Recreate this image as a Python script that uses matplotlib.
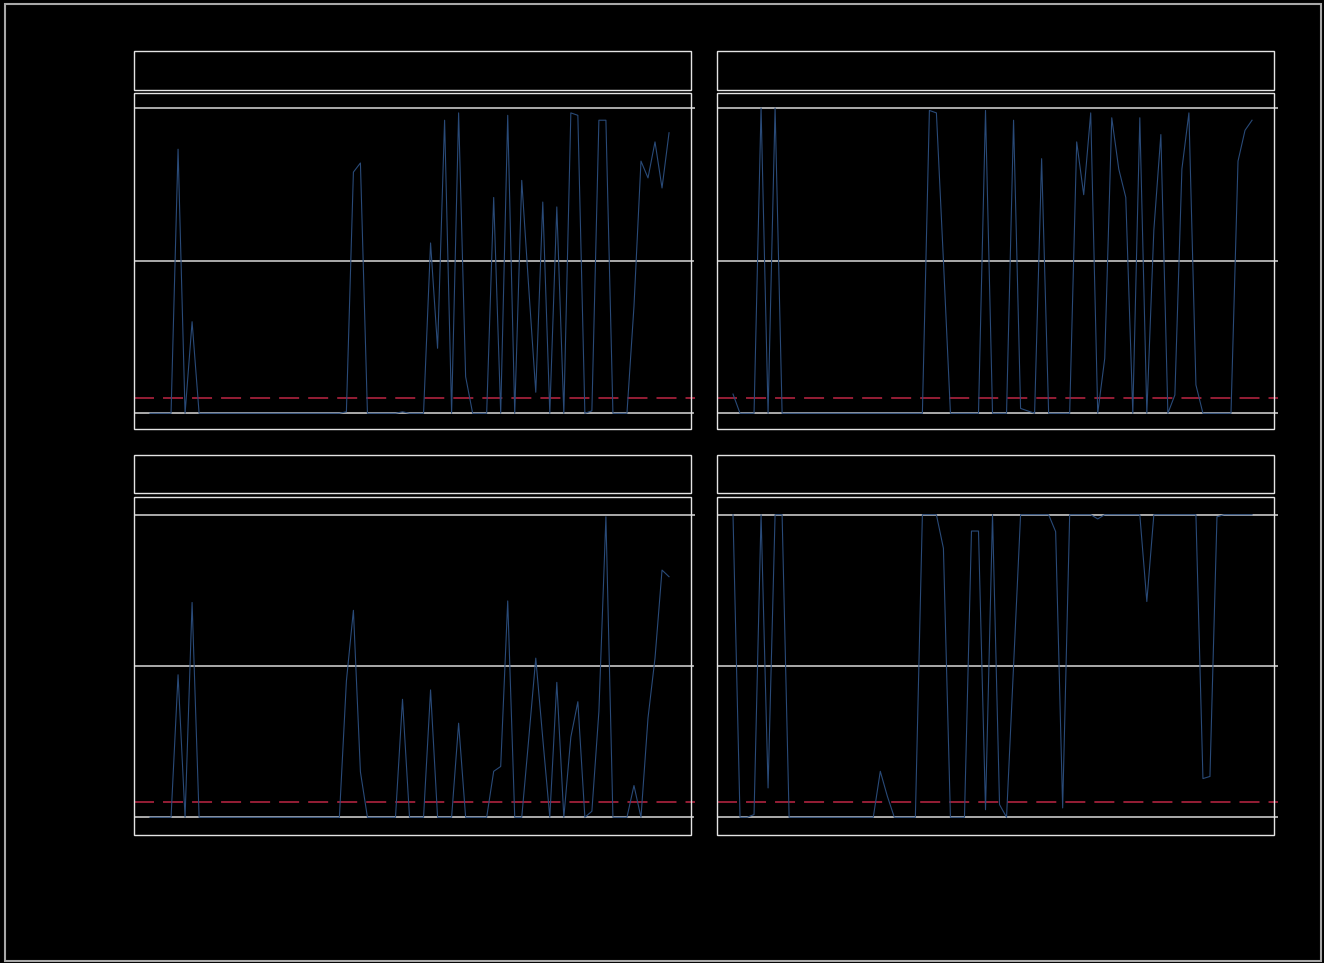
import matplotlib
matplotlib.use("Agg")
import matplotlib.pyplot as plt
from matplotlib.patches import Rectangle

# p-values per rolling window (75 windows each)
windows = list(range(75))

p_top_left = [
    0, 0, 0, 0, 0.865, 0, 0.30, 0, 0, 0, 0, 0, 0, 0, 0,
    0, 0, 0, 0, 0, 0, 0, 0, 0, 0, 0, 0, 0, 0.005, 0.79,
    0.82, 0, 0, 0, 0, 0, 0.005, 0, 0, 0, 0.558, 0.213, 0.96, 0, 0.984,
    0.12, 0, 0, 0, 0.707, 0, 0.976, 0, 0.763, 0.41, 0.069, 0.692, 0, 0.676, 0,
    0.984, 0.976, 0, 0.008, 0.96, 0.96, 0, 0, 0, 0.35, 0.826, 0.771, 0.889, 0.738, 0.919,
]
p_top_right = [
    0.063, 0, 0, 0, 1.0, 0, 1.0, 0, 0, 0, 0, 0, 0, 0, 0,
    0, 0, 0, 0, 0, 0, 0, 0, 0, 0, 0, 0, 0, 0.992, 0.984,
    0.5, 0, 0, 0, 0, 0, 0.992, 0, 0, 0, 0.96, 0.016, 0.008, 0, 0.834,
    0, 0, 0, 0, 0.889, 0.716, 0.984, 0, 0.18, 0.968, 0.80, 0.707, 0, 0.968, 0,
    0.6, 0.913, 0, 0.06, 0.80, 0.984, 0.093, 0, 0, 0, 0, 0, 0.826, 0.927, 0.96,
]
p_bottom_left = [
    0, 0, 0, 0, 0.471, 0, 0.71, 0, 0, 0, 0, 0, 0, 0, 0,
    0, 0, 0, 0, 0, 0, 0, 0, 0, 0, 0, 0, 0, 0.45, 0.684,
    0.15, 0, 0, 0, 0, 0, 0.39, 0, 0, 0, 0.421, 0, 0, 0, 0.311,
    0, 0, 0, 0, 0.152, 0.168, 0.715, 0, 0, 0.26, 0.526, 0.26, 0, 0.446, 0,
    0.265, 0.382, 0, 0.02, 0.35, 0.993, 0, 0, 0, 0.105, 0, 0.328, 0.526, 0.817, 0.795,
]
p_bottom_right = [
    1.0, 0, 0, 0.009, 1.0, 0.097, 1.0, 1.0, 0, 0, 0, 0, 0, 0, 0,
    0, 0, 0, 0, 0, 0, 0.152, 0.07, 0, 0, 0, 0, 1.0, 1.0, 1.0,
    0.889, 0, 0, 0, 0.946, 0.946, 0.025, 1.0, 0.042, 0, 0.5, 1.0, 1.0, 1.0, 1.0,
    1.0, 0.944, 0.031, 1.0, 1.0, 1.0, 1.0, 0.986, 1.0, 1.0, 1.0, 1.0, 1.0, 1.0, 0.713,
    1.0, 1.0, 1.0, 1.0, 1.0, 1.0, 1.0, 0.128, 0.135, 0.993, 1.0, 1.0, 1.0, 1.0, 1.0,
]
threshold = 0.05

W, H = 1324, 963
plt.rcParams['lines.scale_dashes'] = False
fig = plt.figure(figsize=(W / 100, H / 100), dpi=100, facecolor='black')


def fbox(x0, y0, x1, y1):
    # pixel box (top-left origin) -> figure fraction [left, bottom, width, height]
    return [x0 / W, 1 - y1 / H, (x1 - x0) / W, (y1 - y0) / H]


def outline(x0, y0, x1, y1, color='#e4e4e4', lw=1.0):
    fig.add_artist(Rectangle((x0 / W, 1 - y1 / H), (x1 - x0) / W, (y1 - y0) / H,
                             transform=fig.transFigure, fill=False,
                             edgecolor=color, linewidth=lw))


cols = [(134, 691), (717, 1274)]
# frame top/bottom, strip top/bottom, pixel rows of p=1 and p=0
rows = [(92.7, 429, 51.3, 89.7, 108, 413.3),
        (496.7, 835, 455.3, 493.3, 514.7, 817.3)]
series = [[p_top_left, p_top_right], [p_bottom_left, p_bottom_right]]
step = 7.014   # pixels between windows
lead = 16      # pixels from frame to first window

for r, (ft, fb, st, sb, y1, y0) in enumerate(rows):
    for c, (cl, cr) in enumerate(cols):
        ax = fig.add_axes(fbox(cl, ft, cr + 4, fb))
        ax.set_facecolor('none')
        unit = y0 - y1
        ax.set_ylim(-(fb - y0) / unit, 1 + (y1 - ft) / unit)
        ax.set_xlim(-lead / step, (cr + 4 - cl - lead) / step)
        ax.set_yticks([0, 0.5, 1])
        ax.set_xticks([])
        ax.grid(axis='y', color='#b9b9b9', linewidth=1.3, zorder=0)
        ax.tick_params(length=0, labelcolor='black', labelsize=9)
        for s in ax.spines.values():
            s.set_visible(False)
        ax.plot(windows, series[r][c], color='#294a78', linewidth=0.8, zorder=3)
        ax.axhline(threshold, color='#a1213a', linewidth=1.3,
                   dashes=(14.4, 6.5), zorder=2)
        outline(cl, ft, cr, fb)
        outline(cl, st, cr, sb)

outline(4.5, 4.5, 1321, 961, color='#a8a8a8', lw=1.5)

fig.savefig('out.png', dpi=100, facecolor='black')
